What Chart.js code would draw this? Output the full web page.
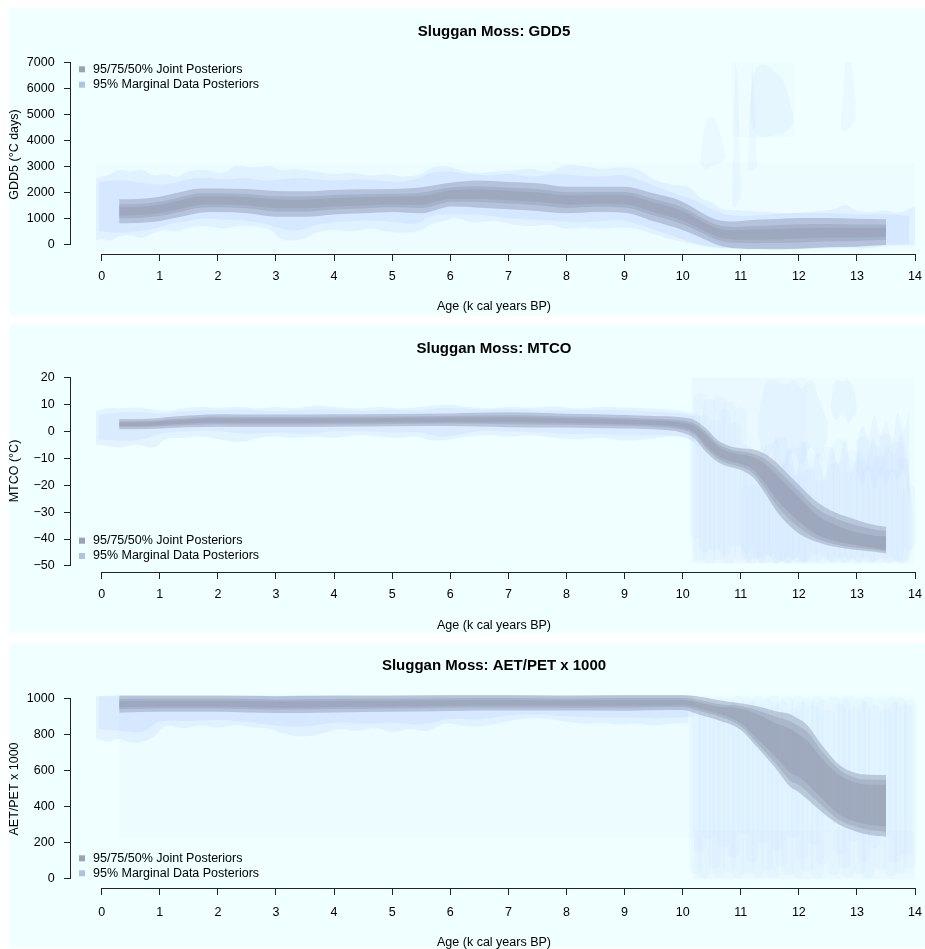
<!DOCTYPE html>
<html>
<head>
<meta charset="utf-8">
<script src="https://cdn.jsdelivr.net/npm/chart.js@4.4.1/dist/chart.umd.min.js"></script>
<style>
html,body{margin:0;padding:0;background:#fff;overflow:hidden;width:925px;height:949px;}
canvas{position:absolute;left:0;}
</style>
</head>
<body>
<canvas id="c1" width="925" height="320" style="top:0px"></canvas>
<canvas id="c2" width="925" height="318" style="top:320px"></canvas>
<canvas id="c3" width="925" height="313" style="top:638px"></canvas>
<script>
// ---------------- axes / labels ----------------
const ageTicks = [0,1,2,3,4,5,6,7,8,9,10,11,12,13,14];
const ageTickLabels = ['0','1','2','3','4','5','6','7','8','9','10','11','12','13','14'];
const xTitle = 'Age (k cal years BP)';
const legendLabels = ['95/75/50% Joint Posteriors', '95% Marginal Data Posteriors'];

const gddTicks = [0,1000,2000,3000,4000,5000,6000,7000];
const gddTickLabels = ['0','1000','2000','3000','4000','5000','6000','7000'];
const mtcoTicks = [-50,-40,-30,-20,-10,0,10,20];
const mtcoTickLabels = ['\u221250','\u221240','\u221230','\u221220','\u221210','0','10','20'];
const aetTicks = [0,200,400,600,800,1000];
const aetTickLabels = ['0','200','400','600','800','1000'];

// ---------------- GDD5 ----------------
const gddAge = [0.3,0.6,1.0,1.3,1.7,2.0,2.5,3.0,3.5,4.0,4.5,5.0,5.5,5.8,6.0,6.5,7.0,7.5,8.0,8.5,9.0,9.5,10.0,10.3,10.6,10.9,11.2,11.5,12.0,12.5,13.0,13.5];
const gdd95lo = [808,820,896,1030,1215,1240,1190,1060,1060,1150,1190,1240,1190,1350,1450,1410,1350,1280,1190,1240,1215,885,550,270,-27,-155,-185,-190,-170,-115,-90,-30];
const gdd95hi = [1730,1740,1830,1980,2150,2150,2125,2050,2040,2090,2115,2125,2190,2300,2370,2450,2400,2345,2215,2215,2215,1960,1640,1254,935,880,935,960,1010,1010,985,960];
const gdd75lo = [997,1009,1088,1225,1407,1427,1382,1263,1261,1343,1380,1422,1395,1545,1639,1623,1565,1499,1400,1440,1420,1106,773,472,170,57,45,46,72,116,131,173];
const gdd75hi = [1541,1551,1638,1785,1959,1963,1934,1847,1839,1897,1926,1944,1985,2105,2181,2237,2185,2127,2006,2016,2010,1740,1417,1052,738,669,705,724,768,780,765,757];
const gdd50lo = [1112,1124,1204,1343,1524,1540,1499,1387,1383,1460,1496,1532,1520,1663,1754,1753,1696,1632,1529,1562,1545,1240,910,595,290,187,185,189,219,257,265,297];
const gdd50hi = [1426,1436,1522,1667,1842,1850,1817,1723,1717,1780,1810,1834,1860,1987,2066,2107,2054,1994,1877,1894,1885,1606,1280,929,618,539,565,581,621,639,631,633];

const gddCloudAge = [-0.1,0.0,0.15,0.3,0.5,0.7,0.9,1.1,1.3,1.5,1.8,2.1,2.3,2.6,2.9,3.1,3.3,3.5,3.7,4.0,4.3,4.6,4.9,5.2,5.5,5.7,5.9,6.1,6.4,6.8,7.1,7.4,7.7,8.0,8.3,8.6,8.9,9.2,9.5,9.8,10.1,10.3,10.5,10.7,11.0,11.4,11.8,12.2,12.6,12.8,13.0,13.3,13.5,13.7,14.0];
const gddCloudLo = [165,200,150,300,360,250,450,550,500,650,700,600,680,700,550,200,150,250,450,550,500,600,500,450,550,800,900,1000,850,900,750,700,750,600,650,600,650,600,400,200,50,-50,-120,-160,-180,-180,-180,-170,-150,-140,-150,-120,-60,-40,-40];
const gddCloudHi = [2540,2600,2700,2850,2800,2850,2650,2700,2600,2800,2850,2750,3000,2950,3000,2850,2900,2850,2800,2700,2750,2650,2700,2600,2700,2950,3000,2900,2750,2800,2850,2900,2800,3050,3000,2900,2950,2900,2500,2300,2200,1800,1600,1350,1300,1250,1200,1250,1350,1500,1300,1250,1300,1200,1450];
const gddCloud2Age = [-0.05,0.3,0.6,0.9,1.2,1.5,1.8,2.1,2.5,2.8,3.1,3.4,3.7,4.0,4.4,4.8,5.1,5.4,5.7,6.0,6.3,6.7,7.0,7.4,7.8,8.2,8.6,9.0,9.4,9.8,10.2,10.5,10.9,11.5,12.0,12.5,13.0,13.5,13.9];
const gddCloud2Lo = [500,450,500,600,800,900,1000,950,900,800,600,550,750,850,900,900,850,800,1100,1150,1150,1100,1000,950,900,850,900,900,650,350,50,-80,-150,-160,-150,-100,-80,-20,0];
const gddCloud2Hi = [2400,2450,2400,2300,2350,2500,2550,2500,2550,2450,2500,2550,2500,2450,2500,2450,2400,2500,2750,2800,2700,2650,2700,2600,2700,2650,2600,2650,2350,2000,1700,1350,1100,1150,1200,1200,1150,1150,1100];
const gddRectAge = [-0.1,14.0], gddRectLo = [-250,-250], gddRectHi = [3150,3150];
const gddRect2Age = [10.84,11.93], gddRect2Lo = [4140,4140], gddRect2Hi = [7000,7000];
const gddBlobAAge = [10.3,10.4,10.5,10.6,10.7,10.75], gddBlobALo = [3100,2900,3000,3100,3200,3350], gddBlobAHi = [3200,4700,4900,4600,3800,3400];
const gddBlobBAge = [10.85,10.9,10.95,11.0], gddBlobBLo = [1500,1400,1600,1800], gddBlobBHi = [1600,7000,6500,1900];
const gddBlobB2Age = [11.12,11.2,11.28], gddBlobB2Lo = [2900,2800,3000], gddBlobB2Hi = [3000,7000,3100];
const gddBlobCAge = [11.15,11.25,11.4,11.6,11.75,11.9], gddBlobCLo = [5000,4300,4100,4200,4300,4600], gddBlobCHi = [5200,6700,6900,6600,6200,5000];
const gddBlobDAge = [12.72,12.8,12.9,12.98], gddBlobDLo = [4400,4300,4500,4800], gddBlobDHi = [4600,7000,7000,5500];

// ---------------- MTCO ----------------
const mtcoAge = [0.3,0.8,1.1,1.5,2.0,3.0,4.0,5.0,6.0,7.0,8.0,9.0,9.5,10.0,10.2,10.4,10.6,10.8,11.0,11.2,11.4,11.6,11.8,12.0,12.3,12.6,13.0,13.3,13.5];
const mtco95lo = [0.7,0.8,1.1,1.45,1.7,1.6,1.7,1.8,1.9,1.5,1.4,1.0,0.7,-0.6,-2.6,-7.6,-11.3,-13.2,-14.4,-16.9,-22.4,-29.2,-34.2,-37.9,-41.0,-42.8,-44.1,-44.7,-45.3];
const mtco95hi = [4.5,4.6,5.2,5.8,6.3,6.2,6.3,6.4,6.6,7.0,6.5,6.0,5.6,5.1,4.2,1.1,-3.3,-5.5,-6.3,-6.7,-8.2,-11.3,-15.6,-19.9,-26.1,-29.9,-32.9,-34.8,-35.4];
const mtco75lo = [1.46,1.56,1.92,2.32,2.62,2.52,2.62,2.72,2.84,2.6,2.42,2.0,1.68,0.54,-1.24,-6.3,-10.1,-12.05,-13.19,-15.37,-20.6,-26.95,-31.9,-35.65,-39.8,-41.8,-43.2,-44.0,-44.6];
const mtco75hi = [3.74,3.84,4.38,4.94,5.38,5.28,5.38,5.48,5.66,5.9,5.48,5.0,4.62,3.96,2.84,-0.2,-4.5,-6.65,-7.51,-8.23,-10.0,-13.55,-17.9,-22.15,-28.5,-32.0,-35.0,-36.5,-37.0];
const mtco50lo = [1.93,2.03,2.43,2.87,3.2,3.1,3.2,3.3,3.43,3.29,3.06,2.62,2.29,1.25,-0.39,-5.21,-9.1,-11.08,-12.17,-14.1,-18.85,-24.75,-29.55,-33.4,-38.3,-40.6,-42.3,-43.3,-44.0];
const mtco50hi = [3.27,3.37,3.87,4.39,4.8,4.7,4.8,4.9,5.07,5.21,4.84,4.38,4.01,3.25,1.99,-1.29,-5.5,-7.62,-8.53,-9.5,-11.75,-15.75,-20.25,-24.4,-31.0,-34.5,-37.5,-38.8,-39.0];

const mtcoCloudAge = [-0.1,0.1,0.3,0.6,0.9,1.1,1.4,1.7,2.0,2.4,2.7,3.0,3.3,3.7,4.0,4.4,4.8,5.1,5.4,5.7,6.0,6.3,6.7,7.0,7.4,7.8,8.2,8.6,9.0,9.4,9.8,10.1,10.3];
const mtcoCloudLo = [-5,-5.5,-6,-5,-6,-3,-2.5,-2,-3,-4,-2.5,-2,-2.5,-2,-2.5,-1.5,-2,-2.5,-2,-3.5,-3,-2,-1.5,-2,-1.5,-2.5,-3,-2.5,-3.5,-3,-2,-3,-6];
const mtcoCloudHi = [7.5,8.5,8.5,8.8,8.0,7.5,8.5,9.0,8.8,9.0,8.5,9.0,8.5,9.5,9.0,8.5,9.0,8.5,8.8,9.5,9.8,9.0,8.5,9.0,8.8,9.2,8.5,9.0,8.8,8.5,8.0,7.0,5.5];
const mtcoCloud2Age = [-0.05,0.3,0.7,1.0,1.5,2.0,2.5,3.0,3.5,4.0,4.5,5.0,5.5,5.8,6.1,6.5,7.0,7.5,8.0,8.5,9.0,9.5,10.0,10.2];
const mtcoCloud2Lo = [-3,-3.5,-3,-1,0,0,-1,-0.5,-1,0,0,-0.5,-0.5,-2,-1.5,0,0,-0.5,-1,-1,-1.5,-1.5,-2,-4];
const mtcoCloud2Hi = [6,7,7,6.5,7.5,7.8,8,7.5,8,8,7.5,8,7.8,8.5,8.5,8,8.2,8,7.8,8,7.8,7.2,6.5,5.5];
const mtcoRectAge = [10.15,14.0], mtcoRectLo = [-49,-49], mtcoRectHi = [19.8,19.8];
const mtcoRect2Age = [10.15,12.15], mtcoRect2Lo = [-49,-49], mtcoRect2Hi = [19.8,19.8];
const mtcoLowAge = [11.0,11.12,11.24,11.36,11.48,11.6,11.72,11.84,11.96,12.08,12.2,12.32,12.44,12.56,12.68,12.8,12.92,13.04,13.16,13.28,13.4,13.52,13.64,13.76,13.88,13.96];
const mtcoLowHi = [-25,-8,-18,-5,-15,-2,-12,-6,-16,-4,-14,-8,-18,-6,-12,-3,-15,-7,-11,-2,-13,-5,-9,-1,-14,-30];
const mtcoLowLo = [-45,-49,-47,-49,-46,-49,-48,-49,-47,-49,-48,-49,-46,-49,-48,-49,-47,-49,-48,-49,-47,-49,-48,-49,-47,-42];
const mtcoUpAge = [11.3,11.45,11.6,11.75,11.9,12.05,12.2,12.35,12.5], mtcoUpHi = [5,18,19,17,19,16,19,12,3], mtcoUpLo = [-2,-10,-5,-14,-8,-12,-6,-10,-2];
const mtcoUp2Age = [12.55,12.65,12.75,12.85,12.95,13.0], mtcoUp2Hi = [10,19,18.5,19,15,8], mtcoUp2Lo = [8,4,7,3,6,7];
const mtcoMidAge = [13.0,13.1,13.2,13.3,13.4,13.5,13.6,13.7,13.8,13.9], mtcoMidHi = [-5,2,-3,6,-2,4,-4,7,0,8], mtcoMidLo = [-15,-20,-14,-22,-16,-20,-15,-18,-14,-25];
const mtcoStreakAge = [10.22,10.3,10.38,10.46,10.55,10.63,10.72,10.8,10.9,11.0,11.1,11.2,11.3,11.4,11.5,11.6,11.7,11.8,11.9,12.0,12.1,12.2,12.3,12.4,12.5,12.6,12.7,12.8,12.9,13.0,13.1,13.2,13.3,13.4,13.5,13.6,13.7,13.8,13.9];
const mtcoStreakLo = [-40,-48,-45,-49,-44,-48,-46,-49,-43,-48,-45,-49,-47,-49,-46,-49,-48,-49,-47,-49,-48,-49,-46,-49,-48,-49,-47,-49,-48,-49,-47,-49,-48,-49,-47,-49,-48,-49,-44];
const mtcoStreakHi = [2,14,6,12,4,13,8,11,3,9,-5,-20,-8,-18,-5,-15,-2,-12,-6,-16,-4,-14,-8,-18,-6,-12,-3,-15,-7,-11,-2,-13,-5,-9,-1,-14,-4,-10,-20];

// ---------------- AET/PET ----------------
const aetAge = [0.3,1.0,2.0,3.0,4.0,5.0,6.0,7.0,8.0,9.0,10.0,10.3,10.6,11.0,11.3,11.6,11.85,12.0,12.15,12.4,12.7,13.0,13.2,13.5];
const aet95lo = [920,925,925,918,922,925,930,932,932,931,935,908,880,825,723,613,510,480,440,370,300,262,245,234];
const aet95hi = [1015,1015,1015,1012,1015,1015,1018,1018,1015,1018,1018,1009,991,972,954,928,912,885,850,740,631,585,577,575];
const aet75lo = [939,943,943,937,941,943,948,949,949,948,952,928,902,845,745,640,545,520,480,405,325,288,272,262];
const aet75hi = [996,997,997,993,996,997,1000,1001,998,1001,1001,989,969,958,932,898,873,845,812,705,605,558,550,548];
const aet50lo = [951,954,954,948,952,954,959,960,959,959,962,941,916,862,770,675,590,565,525,445,355,315,300,290];
const aet50hi = [984,986,986,982,985,986,989,990,988,990,991,976,955,944,910,862,833,800,765,665,575,531,522,521];

const aetCloudAge = [-0.1,0.1,0.3,0.5,0.7,0.9,1.1,1.4,1.7,2.0,2.3,2.6,2.9,3.2,3.5,3.8,4.1,4.4,4.7,5.0,5.3,5.6,5.9,6.2,6.5,6.8,7.1,7.4,7.7,8.0,8.3,8.6,8.9,9.2,9.5,9.8,10.1];
const aetCloudLo = [780,760,775,755,760,790,845,835,850,838,852,840,830,800,790,805,830,820,835,815,830,820,860,850,845,860,880,890,885,870,860,865,855,860,850,860,865];
const aetCloudHi = [1012,1014,1015,1015,1015,1015,1015,1015,1015,1015,1015,1015,1015,1015,1015,1015,1015,1015,1015,1015,1015,1015,1015,1015,1015,1015,1015,1015,1015,1015,1015,1015,1015,1015,1015,1015,1015];
const aetCloud2Age = [-0.05,0.3,0.7,1.0,1.5,2.0,2.5,3.0,3.5,4.0,4.5,5.0,5.5,6.0,6.5,7.0,7.5,8.0,8.5,9.0,9.5,10.0,10.2];
const aetCloud2Lo = [830,820,815,870,875,880,870,850,845,865,860,865,855,885,885,905,910,900,895,895,890,895,900];
const aetCloud2Hi = [1012,1012,1012,1012,1012,1012,1012,1012,1012,1012,1012,1012,1012,1012,1012,1012,1012,1012,1012,1012,1012,1012,1012];
const aetRectAge = [0.3,10.2], aetRectLo = [227,227], aetRectHi = [1015,1015];
const aetRect2Age = [10.15,14.0], aetRect2Lo = [-5,-5], aetRect2Hi = [1015,1015];
const aetRect3Age = [10.2,14.0], aetRect3Lo = [0,0], aetRect3Hi = [270,270];
const aetStreakAge = [10.22,10.3,10.38,10.45,10.55,10.62,10.7,10.8,10.88,10.95,11.05,11.12,11.2,11.3,11.38,11.45,11.55,11.62,11.7,11.8,11.9,11.98,12.05,12.15,12.25,12.32,12.4,12.5,12.6,12.7,12.78,12.85,12.95,13.05,13.12,13.2,13.3,13.4,13.5,13.58,13.65,13.75,13.85,13.92];
const aetStreakLo = [30,150,5,220,60,10,180,40,120,5,250,30,90,10,200,50,5,160,70,20,230,10,110,40,190,5,80,260,20,140,60,10,210,30,100,5,170,50,240,15,90,30,130,60];
const aetStreakHi = [1005,960,1012,930,990,1010,950,1000,975,1012,940,1005,985,1010,955,995,1012,965,990,1008,945,1012,980,1000,960,1010,990,935,1005,970,995,1012,950,1000,985,1010,960,995,940,1008,980,1000,965,990];

// ---------------- styles ----------------
const FONT = "'Liberation Sans', Arial, Helvetica, sans-serif";
Chart.defaults.font.family = FONT;
Chart.defaults.font.size = 12.5;
Chart.defaults.color = '#000';
const C_RECT = 'rgba(180,200,255,0.05)';
const C_CLOUD = 'rgba(160,180,255,0.15)';
const C_BLOB = 'rgba(170,190,255,0.09)';
const C_BAR = 'rgba(170,190,255,0.065)';
const C95 = 'rgba(140,150,175,0.45)';
const C75 = 'rgba(140,150,170,0.36)';
const C50 = 'rgba(140,148,170,0.36)';
const LEG1 = '#9AA2B6', LEG2 = '#B3C1E0';
const X_MIN = -0.5285, X_MAX = 14.034;

function band(xs, lo, hi, color, tension, mono) {
  const base = {type:'line', borderColor:'rgba(0,0,0,0)', borderWidth:0, pointRadius:0, tension: tension};
  if (mono) base.cubicInterpolationMode = 'monotone';
  return [
    Object.assign({}, base, {data: xs.map((x,i)=>({x:x, y:lo[i]})), fill:false}),
    Object.assign({}, base, {data: xs.map((x,i)=>({x:x, y:hi[i]})), fill:'-1', backgroundColor:color})
  ];
}
function bars(xs, lo, hi, color) {
  return [{type:'bar', data: xs.map((x,i)=>({x:x, y:[lo[i],hi[i]]})), backgroundColor:color,
           barThickness:12, borderRadius:6, borderSkipped:false, borderWidth:0}];
}

const panelPlugin = {
  id: 'panel',
  beforeDraw(chart, args, o) {
    const ctx = chart.ctx;
    ctx.save();
    ctx.fillStyle = '#ffffff';
    ctx.fillRect(0, 0, chart.width, chart.height);
    ctx.fillStyle = '#F0FFFF';
    ctx.fillRect(9, o.bgTop, chart.width - 9, o.bgBottom - o.bgTop);
    ctx.restore();
  },
  afterDraw(chart, args, o) {
    const ctx = chart.ctx, xs = chart.scales.x, ys = chart.scales.y, ca = chart.chartArea;
    const al = p => Math.round(p - 0.5) + 0.5;
    ctx.save();
    ctx.strokeStyle = '#222'; ctx.lineWidth = 1;
    const yx = ca.left - 0.5;
    ctx.beginPath();
    ctx.moveTo(yx, al(ys.getPixelForValue(o.yTicks[0])) + 0.5);
    ctx.lineTo(yx, al(ys.getPixelForValue(o.yTicks[o.yTicks.length-1])) - 0.5);
    ctx.stroke();
    const xy = ca.bottom + 0.5;
    ctx.beginPath();
    ctx.moveTo(al(xs.getPixelForValue(ageTicks[0])) - 0.5, xy);
    ctx.lineTo(al(xs.getPixelForValue(ageTicks[ageTicks.length-1])) + 0.5, xy);
    ctx.stroke();
    // legend
    ctx.font = '12.5px ' + FONT;
    ctx.textBaseline = 'middle';
    ctx.textAlign = 'left';
    const cols = [LEG1, LEG2];
    [o.legY1, o.legY2].forEach((y, i) => {
      ctx.fillStyle = cols[i];
      ctx.fillRect(79, y - 3, 6, 6);
      ctx.fillStyle = '#000';
      ctx.fillText(legendLabels[i], 93, y);
    });
    ctx.restore();
  }
};

function makeChart(id, cfg) {
  const datasets = [];
  let ord = 1000;
  cfg.layers.forEach(L => {
    L.forEach(d => { d.order = ord; datasets.push(d); });
    ord--;
  });
  return new Chart(document.getElementById(id), {
    type: 'line',
    data: {datasets: datasets},
    options: {
      responsive: false, animation: false, events: [],
      layout: {padding: {left:0, right:8, top:0, bottom:0}, autoPadding:false},
      scales: {
        x: {
          type:'linear', min:X_MIN, max:X_MAX, offset:false,
          afterBuildTicks: s => { s.ticks = ageTicks.map(v => ({value:v})); },
          afterFit: s => { s.height = cfg.xH; s.paddingLeft = 0; s.paddingRight = 0; s.paddingTop = 0; s.paddingBottom = 0; },
          ticks: {autoSkip:false, maxRotation:0, minRotation:0, padding:cfg.xTickPad, color:'#000', font:{size:12.5},
                  callback: (v, i) => ageTickLabels[i]},
          grid: {display:true, offset:false, drawOnChartArea:false, drawTicks:true, tickLength:7, color:'#222', lineWidth:1},
          border: {display:false},
          title: {display:true, text:xTitle, color:'#000', font:{size:12.5}, padding:{top:0, bottom:cfg.xTitlePad}}
        },
        y: {
          type:'linear', min:cfg.yMin, max:cfg.yMax, offset:false,
          afterBuildTicks: s => { s.ticks = cfg.yTicks.map(v => ({value:v})); },
          afterFit: s => { s.width = 71; s.paddingLeft = 0; s.paddingRight = 0; s.paddingTop = 0; s.paddingBottom = 0; },
          ticks: {autoSkip:false, padding:9.4, color:'#000', font:{size:12.5},
                  callback: (v, i) => cfg.yLabels[i]},
          grid: {display:true, offset:false, drawOnChartArea:false, drawTicks:true, tickLength:7, color:'#222', lineWidth:1},
          border: {display:false},
          title: {display:true, text:cfg.yTitle, color:'#000', font:{size:12.5}, padding:{top:7.5, bottom:0}}
        }
      },
      plugins: {
        legend: {display:false},
        tooltip: {enabled:false},
        title: {display:true, text:cfg.title, fullSize:false, color:'#000',
                font:{size:15, weight:'bold'}, padding:{top:cfg.tTop, bottom:cfg.tBottom}},
        panel: {bgTop:cfg.bgTop, bgBottom:cfg.bgBottom, yTicks:cfg.yTicks, legY1:cfg.legY1, legY2:cfg.legY2}
      }
    },
    plugins: [panelPlugin]
  });
}

// Panel 1: GDD5
makeChart('c1', {
  title:'Sluggan Moss: GDD5', yTitle:'GDD5 (\u00B0C days)',
  yTicks:gddTicks, yLabels:gddTickLabels, yMin:-373.1, yMax:7280.8,
  xH:66, xTickPad:8.5, xTitlePad:5.5, tTop:22.7, tBottom:14.3,
  bgTop:8, bgBottom:315, legY1:69.3, legY2:84.7,
  layers: [
    band(gddRectAge, gddRectLo, gddRectHi, C_RECT, 0),
    band(gddRect2Age, gddRect2Lo, gddRect2Hi, C_RECT, 0),
    band(gddCloudAge, gddCloudLo, gddCloudHi, C_CLOUD, 0.4),
    band(gddCloud2Age, gddCloud2Lo, gddCloud2Hi, C_CLOUD, 0.4),
    band(gddBlobAAge, gddBlobALo, gddBlobAHi, C_BLOB, 0.4),
    band(gddBlobBAge, gddBlobBLo, gddBlobBHi, C_BLOB, 0),
    band(gddBlobB2Age, gddBlobB2Lo, gddBlobB2Hi, C_BLOB, 0),
    band(gddBlobCAge, gddBlobCLo, gddBlobCHi, C_BLOB, 0.4),
    band(gddBlobDAge, gddBlobDLo, gddBlobDHi, C_BLOB, 0),
    band(gddAge, gdd95lo, gdd95hi, C95, 0, true),
    band(gddAge, gdd75lo, gdd75hi, C75, 0, true),
    band(gddAge, gdd50lo, gdd50hi, C50, 0, true)
  ]
});

// Panel 2: MTCO
makeChart('c2', {
  title:'Sluggan Moss: MTCO', yTitle:'MTCO (\u00B0C)',
  yTicks:mtcoTicks, yLabels:mtcoTickLabels, yMin:-52.226, yMax:22.708,
  xH:66, xTickPad:8.5, xTitlePad:4.8, tTop:20.3, tBottom:11.7,
  bgTop:5, bgBottom:313, legY1:220.7, legY2:236,
  layers: [
    band(mtcoRectAge, mtcoRectLo, mtcoRectHi, C_RECT, 0),
    band(mtcoRect2Age, mtcoRect2Lo, mtcoRect2Hi, C_RECT, 0),
    band(mtcoCloudAge, mtcoCloudLo, mtcoCloudHi, C_CLOUD, 0.4),
    band(mtcoCloud2Age, mtcoCloud2Lo, mtcoCloud2Hi, C_CLOUD, 0.4),
    band(mtcoLowAge, mtcoLowLo, mtcoLowHi, C_BLOB, 0.3),
    band(mtcoUpAge, mtcoUpLo, mtcoUpHi, C_BLOB, 0.4),
    band(mtcoUp2Age, mtcoUp2Lo, mtcoUp2Hi, C_BLOB, 0.4),
    band(mtcoMidAge, mtcoMidLo, mtcoMidHi, C_BLOB, 0.3),
    bars(mtcoStreakAge, mtcoStreakLo, mtcoStreakHi, C_BAR),
    band(mtcoAge, mtco95lo, mtco95hi, C95, 0, true),
    band(mtcoAge, mtco75lo, mtco75hi, C75, 0, true),
    band(mtcoAge, mtco50lo, mtco50hi, C50, 0, true)
  ]
});

// Panel 3: AET/PET
makeChart('c3', {
  title:'Sluggan Moss: AET/PET x 1000', yTitle:'AET/PET x 1000',
  yTicks:aetTicks, yLabels:aetTickLabels, yMin:-49.81, yMax:1045.93,
  xH:63, xTickPad:10.2, xTitlePad:0.8, tTop:19, tBottom:15,
  bgTop:5, bgBottom:310, legY1:220.3, legY2:235.3,
  layers: [
    band(aetRectAge, aetRectLo, aetRectHi, C_RECT, 0),
    band(aetRect2Age, aetRect2Lo, aetRect2Hi, C_RECT, 0),
    band(aetRect3Age, aetRect3Lo, aetRect3Hi, C_RECT, 0),
    band(aetCloudAge, aetCloudLo, aetCloudHi, C_CLOUD, 0.4),
    band(aetCloud2Age, aetCloud2Lo, aetCloud2Hi, C_CLOUD, 0.4),
    bars(aetStreakAge, aetStreakLo, aetStreakHi, C_BAR),
    band(aetAge, aet95lo, aet95hi, C95, 0, true),
    band(aetAge, aet75lo, aet75hi, C75, 0, true),
    band(aetAge, aet50lo, aet50hi, C50, 0, true)
  ]
});
</script>
</body>
</html>
